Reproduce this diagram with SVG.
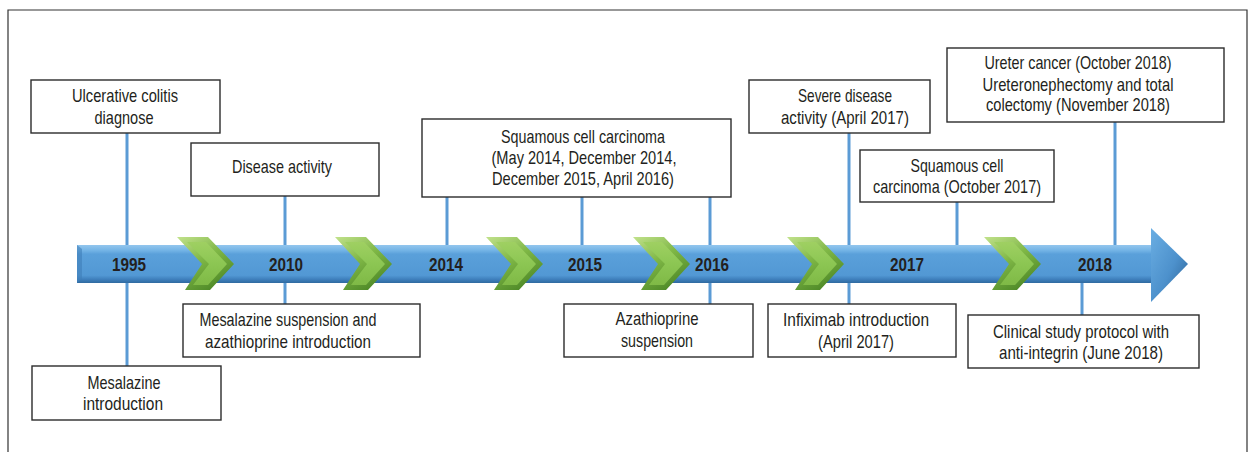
<svg xmlns="http://www.w3.org/2000/svg" width="1249" height="452" viewBox="0 0 1249 452">
<defs>
<style>
.box{fill:#fff;stroke:#2b2b2b;stroke-width:1.4}
.t{font-family:"Liberation Sans",Arial,sans-serif;font-size:19px;fill:#231f20;text-anchor:middle}
.y{font-family:"Liberation Sans",Arial,sans-serif;font-size:19px;font-weight:bold;fill:#231f20;text-anchor:middle}
.c{stroke:#5b9bd5;stroke-width:3;fill:none}
</style>
<linearGradient id="bar" x1="0" y1="0" x2="0" y2="1">
<stop offset="0" stop-color="#93c6ee"/>
<stop offset="0.14" stop-color="#74b4e6"/>
<stop offset="0.24" stop-color="#5aa0da"/>
<stop offset="0.8" stop-color="#5298d4"/>
<stop offset="0.9" stop-color="#3f80bd"/>
<stop offset="1" stop-color="#2f6aa0"/>
</linearGradient>
<linearGradient id="head" x1="0" y1="0" x2="1" y2="1">
<stop offset="0" stop-color="#6aaee3"/>
<stop offset="0.55" stop-color="#4d91cc"/>
<stop offset="1" stop-color="#2a5f92"/>
</linearGradient>
<linearGradient id="chev" x1="0" y1="0" x2="0.6" y2="1">
<stop offset="0" stop-color="#c2e28c"/>
<stop offset="0.5" stop-color="#7fb746"/>
<stop offset="1" stop-color="#4f8a28"/>
</linearGradient>
<linearGradient id="chevIn" x1="0" y1="0" x2="0" y2="1">
<stop offset="0" stop-color="#9fd062"/>
<stop offset="0.5" stop-color="#8cc653"/>
<stop offset="1" stop-color="#7fb946"/>
</linearGradient>
<symbol id="chevron" overflow="visible">
<polygon points="0,237 31,237 57,264 33,290 8,290 25,264" fill="url(#chev)"/>
<polygon points="10,242 29,242 50,264 31,285 16,285 32,264" fill="url(#chevIn)"/>
</symbol>
</defs>
<rect width="1249" height="452" fill="#fff"/>
<path d="M8,452 V10 H1247 V452" fill="none" stroke="#333" stroke-width="1.2"/>

<g id="connectors">
<line class="c" x1="127" y1="133" x2="127" y2="246"/>
<line class="c" x1="127" y1="282" x2="127" y2="366"/>
<line class="c" x1="285" y1="196" x2="285" y2="246"/>
<line class="c" x1="285" y1="282" x2="285" y2="304"/>
<line class="c" x1="447" y1="197" x2="447" y2="246"/>
<line class="c" x1="582" y1="197" x2="582" y2="246"/>
<line class="c" x1="710" y1="197" x2="710" y2="246"/>
<line class="c" x1="710" y1="282" x2="710" y2="304"/>
<line class="c" x1="849" y1="133" x2="849" y2="246"/>
<line class="c" x1="849" y1="282" x2="849" y2="304"/>
<line class="c" x1="957" y1="202" x2="957" y2="246"/>
<line class="c" x1="1115" y1="122" x2="1115" y2="246"/>
<line class="c" x1="1082" y1="282" x2="1082" y2="315"/>
</g>

<g id="timeline">
<rect x="77" y="245" width="1075" height="38" fill="url(#bar)"/>
<polygon points="77,245 82,249 82,279 77,283" fill="#3f7fb9" opacity="0.6"/>
<polygon points="1151,228 1188,264 1151,302" fill="url(#head)"/>
<use href="#chevron" x="177"/>
<use href="#chevron" x="335"/>
<use href="#chevron" x="486"/>
<use href="#chevron" x="633"/>
<use href="#chevron" x="787"/>
<use href="#chevron" x="984"/>
<text class="y" x="129" y="271" textLength="34" lengthAdjust="spacingAndGlyphs">1995</text>
<text class="y" x="286" y="271" textLength="34" lengthAdjust="spacingAndGlyphs">2010</text>
<text class="y" x="446" y="271" textLength="34" lengthAdjust="spacingAndGlyphs">2014</text>
<text class="y" x="585" y="271" textLength="34" lengthAdjust="spacingAndGlyphs">2015</text>
<text class="y" x="712" y="271" textLength="34" lengthAdjust="spacingAndGlyphs">2016</text>
<text class="y" x="907" y="271" textLength="34" lengthAdjust="spacingAndGlyphs">2017</text>
<text class="y" x="1095" y="271" textLength="34" lengthAdjust="spacingAndGlyphs">2018</text>
</g>

<g id="n-ulcerative">
<rect class="box" x="31" y="80" width="189" height="53"/>
<text class="t" x="125" y="102" textLength="106" lengthAdjust="spacingAndGlyphs">Ulcerative colitis</text>
<text class="t" x="124" y="124" textLength="59" lengthAdjust="spacingAndGlyphs">diagnose</text>
</g>
<g id="n-mesalazine-intro">
<rect class="box" x="32" y="366" width="189" height="54"/>
<text class="t" x="124" y="389" textLength="73" lengthAdjust="spacingAndGlyphs">Mesalazine</text>
<text class="t" x="123" y="410" textLength="80" lengthAdjust="spacingAndGlyphs">introduction</text>
</g>
<g id="n-disease-activity">
<rect class="box" x="191" y="143" width="188" height="53"/>
<text class="t" x="282" y="173" textLength="100" lengthAdjust="spacingAndGlyphs">Disease activity</text>
</g>
<g id="n-mesalazine-suspension">
<rect class="box" x="183" y="304" width="237" height="53"/>
<text class="t" x="288" y="326" textLength="177" lengthAdjust="spacingAndGlyphs">Mesalazine suspension and</text>
<text class="t" x="288" y="348" textLength="166" lengthAdjust="spacingAndGlyphs">azathioprine introduction</text>
</g>
<g id="n-squamous-1">
<rect class="box" x="422" y="119" width="309" height="78"/>
<text class="t" x="583" y="143" textLength="164" lengthAdjust="spacingAndGlyphs">Squamous cell carcinoma</text>
<text class="t" x="584" y="164" textLength="185" lengthAdjust="spacingAndGlyphs">(May 2014, December 2014,</text>
<text class="t" x="583" y="185" textLength="182" lengthAdjust="spacingAndGlyphs">December 2015, April 2016)</text>
</g>
<g id="n-azathioprine">
<rect class="box" x="564" y="304" width="189" height="53"/>
<text class="t" x="657" y="325" textLength="83" lengthAdjust="spacingAndGlyphs">Azathioprine</text>
<text class="t" x="657" y="347" textLength="72" lengthAdjust="spacingAndGlyphs">suspension</text>
</g>
<g id="n-severe">
<rect class="box" x="749" y="80" width="181" height="53"/>
<text class="t" x="845" y="102" textLength="94" lengthAdjust="spacingAndGlyphs">Severe disease</text>
<text class="t" x="845" y="124" textLength="128" lengthAdjust="spacingAndGlyphs">activity (April 2017)</text>
</g>
<g id="n-infliximab">
<rect class="box" x="768" y="304" width="188" height="53"/>
<text class="t" x="856" y="326" textLength="146" lengthAdjust="spacingAndGlyphs">Infiximab introduction</text>
<text class="t" x="856" y="348" textLength="76" lengthAdjust="spacingAndGlyphs">(April 2017)</text>
</g>
<g id="n-squamous-2">
<rect class="box" x="860" y="150" width="194" height="52"/>
<text class="t" x="957" y="172" textLength="93" lengthAdjust="spacingAndGlyphs">Squamous cell</text>
<text class="t" x="957" y="193" textLength="168" lengthAdjust="spacingAndGlyphs">carcinoma (October 2017)</text>
</g>
<g id="n-ureter">
<rect class="box" x="947" y="48" width="277" height="74"/>
<text class="t" x="1078" y="69" textLength="187" lengthAdjust="spacingAndGlyphs">Ureter cancer (October 2018)</text>
<text class="t" x="1078" y="91" textLength="191" lengthAdjust="spacingAndGlyphs">Ureteronephectomy and total</text>
<text class="t" x="1078" y="111" textLength="184" lengthAdjust="spacingAndGlyphs">colectomy (November 2018)</text>
</g>
<g id="n-clinical">
<rect class="box" x="968" y="315" width="231" height="53"/>
<text class="t" x="1081" y="338" textLength="176" lengthAdjust="spacingAndGlyphs">Clinical study protocol with</text>
<text class="t" x="1081" y="359" textLength="164" lengthAdjust="spacingAndGlyphs">anti-integrin (June 2018)</text>
</g>
</svg>
